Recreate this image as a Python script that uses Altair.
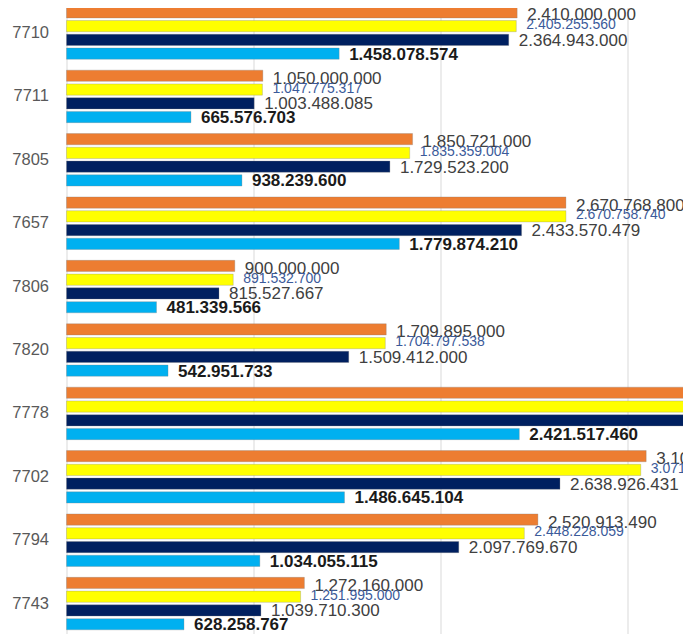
import altair as alt
import pandas as pd

categories = ["7710", "7711", "7805", "7657", "7806", "7820", "7778", "7702", "7794", "7743"]
series = ["orange", "yellow", "navy", "lightblue"]
orange = [2410000000, 1050000000, 1850721000, 2670768800, 900000000, 1709895000, 3800000000, 3100000000, 2520913490, 1272160000]
yellow = [2405255560, 1047775317, 1835359004, 2670758740, 891532700, 1704797538, 3790000000, 3071000000, 2448228059, 1251995000]
navy = [2364943000, 1003488085, 1729523200, 2433570479, 815527667, 1509412000, 3500000000, 2638926431, 2097769670, 1039710300]
lightblue = [1458078574, 665576703, 938239600, 1779874210, 481339566, 542951733, 2421517460, 1486645104, 1034055115, 628258767]
colors = ["#ED7D31", "#FFFF00", "#002060", "#00B0F0"]

rows = []
for s, vals in zip(series, [orange, yellow, navy, lightblue]):
    for c, v in zip(categories, vals):
        rows.append({"cat": c, "series": s, "value": v,
                     "label": f"{v:,}".replace(",", ".")})
df = pd.DataFrame(rows)

ybase = alt.Y("cat:N", sort=categories, title=None,
              scale=alt.Scale(paddingInner=0.172, paddingOuter=0.086),
              axis=alt.Axis(labelFontSize=16.5, labelColor="#595959", labelFont="Liberation Sans",
                            labelPadding=18, ticks=False, domain=False, grid=False))
yoff = alt.YOffset("series:N", sort=series, scale=alt.Scale(paddingInner=0.185, paddingOuter=0))
xenc = alt.X("value:Q", title=None,
             scale=alt.Scale(domain=[0, 3500000000], nice=False, zero=True),
             axis=alt.Axis(values=[0, 1000000000, 2000000000, 3000000000], labels=False,
                           ticks=False, domain=False, grid=True, gridColor="#D9D9D9", gridWidth=1))

base = alt.Chart(df)

bars = base.mark_bar(stroke="#7F7F7F", strokeOpacity=0.3, strokeWidth=1).encode(
    x=xenc, y=ybase, yOffset=yoff,
    color=alt.Color("series:N", sort=series, scale=alt.Scale(domain=series, range=colors), legend=None),
)

label_styles = {
    "orange": dict(fontSize=17, color="#404040", fontWeight="normal", dy=3),
    "yellow": dict(fontSize=14, color="#3B5A9A", fontWeight="normal", dy=-1),
    "navy": dict(fontSize=17, color="#404040", fontWeight="normal", dy=1),
    "lightblue": dict(fontSize=17, color="#1A1A1A", fontWeight="bold", dy=1),
}

layers = [bars]
for s in series:
    st = label_styles[s]
    layers.append(
        base.transform_filter(alt.datum.series == s).mark_text(
            align="left", baseline="middle", dx=10, dy=st["dy"], font="Liberation Sans",
            fontSize=st["fontSize"], color=st["color"], fontWeight=st["fontWeight"],
        ).encode(x=xenc, y=ybase, yOffset=yoff, text="label:N")
    )

chart = alt.layer(*layers).properties(
    width=654.5, height=634,
    padding={"left": 58.5, "top": -6.7, "right": -38, "bottom": -1.3},
    autosize=alt.AutoSizeParams(type="none"),
).configure_view(stroke=None)

chart.save("out.html", embed_options={"renderer": "svg", "actions": False})
